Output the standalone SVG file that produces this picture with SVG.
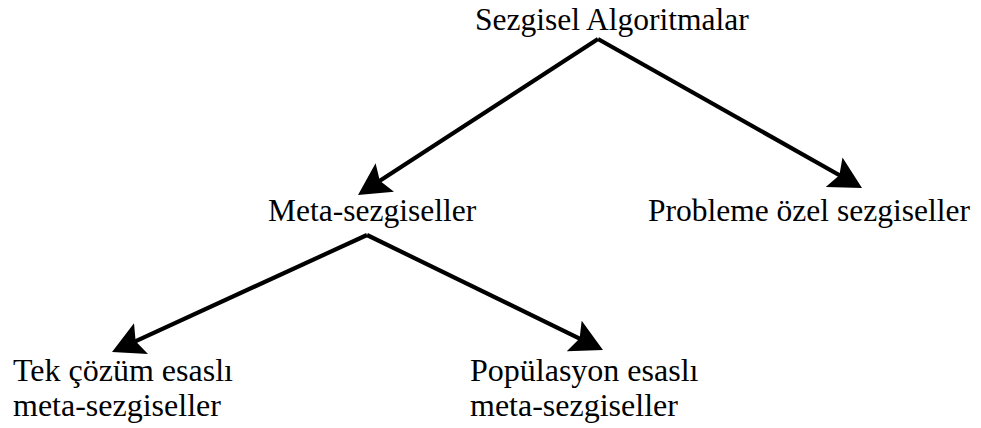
<svg xmlns="http://www.w3.org/2000/svg" width="981" height="428" viewBox="0 0 981 428">
  <style>
    .lbl { font-family: "Liberation Serif", "Times New Roman", serif; font-size: 31.5px; fill: #000; }
    .lbl2 { font-family: "Liberation Serif", "Times New Roman", serif; font-size: 32px; fill: #000; }
    .edge { stroke: #000; stroke-width: 4.2; fill: none; stroke-linecap: butt; marker-end: url(#arrow); }
  </style>
  <defs>
    <marker id="arrow" viewBox="0 0 32 34" refX="22" refY="17" markerWidth="32" markerHeight="34" markerUnits="userSpaceOnUse" orient="auto">
      <path d="M0,0 L32,17 L0,34 L6,17 z" fill="#000"/>
    </marker>
  </defs>
  <rect width="981" height="428" fill="#fff"/>
  <g id="connectors">
    <line class="edge" x1="598" y1="39" x2="366.4" y2="189.5"/>
    <line class="edge" x1="598" y1="39" x2="853.3" y2="183.0"/>
    <line class="edge" x1="367" y1="235" x2="121.1" y2="347.8"/>
    <line class="edge" x1="367" y1="235" x2="594.0" y2="345.6"/>
  </g>
  <g id="node-sezgisel">
    <text class="lbl" x="475" y="30">Sezgisel Algoritmalar</text>
  </g>
  <g id="node-meta">
    <text class="lbl" x="268" y="221">Meta-sezgiseller</text>
  </g>
  <g id="node-probleme">
    <text class="lbl" x="648" y="221">Probleme özel sezgiseller</text>
  </g>
  <g id="node-tek">
    <text class="lbl2" x="13" y="381">Tek çözüm esaslı</text>
    <text class="lbl2" x="13" y="416">meta-sezgiseller</text>
  </g>
  <g id="node-populasyon">
    <text class="lbl2" x="470" y="381">Popülasyon esaslı</text>
    <text class="lbl2" x="470" y="416">meta-sezgiseller</text>
  </g>
</svg>
